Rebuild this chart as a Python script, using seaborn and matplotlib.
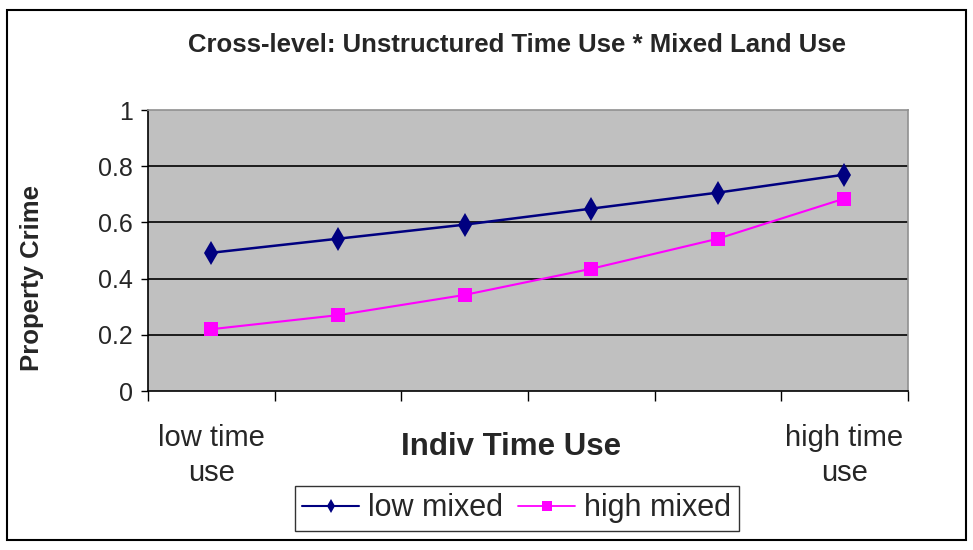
import matplotlib
matplotlib.use("Agg")
import matplotlib.pyplot as plt
from matplotlib.patches import Rectangle
import seaborn as sns
import pandas as pd

# Data
steps = [0, 1, 2, 3, 4, 5]
tick_labels = ["low time\nuse", "", "", "", "", "high time\nuse"]
low_mixed = [0.492, 0.542, 0.592, 0.649, 0.706, 0.770]
high_mixed = [0.220, 0.270, 0.342, 0.435, 0.542, 0.685]
series_names = ["low mixed", "high mixed"]

df = pd.DataFrame({
    "step": steps * 2,
    "value": low_mixed + high_mixed,
    "series": [series_names[0]] * len(steps) + [series_names[1]] * len(steps),
})

sns.set_theme(style="white")
plt.rcParams["font.family"] = ["Liberation Sans", "DejaVu Sans"]

fig = plt.figure(figsize=(9.73, 5.5), dpi=100)
ax = fig.add_axes([0.152, 0.289, 0.781, 0.511])
ax.set_facecolor("#C0C0C0")

palette = {"low mixed": "#000080", "high mixed": "#FF00FF"}
markers = {"low mixed": "d", "high mixed": "s"}
sns.lineplot(data=df, x="step", y="value", hue="series", style="series",
             palette=palette, markers=markers, dashes=False,
             markersize=11, linewidth=1.8, markeredgewidth=0,
             ax=ax, legend=False)
for line, lw, ms in zip(ax.lines, [1.8, 1.5], [12, 10]):
    line.set_linewidth(lw)
    line.set_markersize(ms)

ax.set_xlim(-0.5, 5.5)
ax.set_ylim(0, 1)
ax.set_yticks([0, 0.2, 0.4, 0.6, 0.8, 1.0])
ax.set_yticklabels(["0", "0.2", "0.4", "0.6", "0.8", "1"], fontsize=18)
for y in [0.2, 0.4, 0.6, 0.8]:
    ax.axhline(y, color="black", linewidth=1.2, zorder=0.5)

# category boundary ticks, labels centred on categories
ax.set_xticks([s - 0.5 for s in steps] + [5.5])
ax.set_xticklabels([])
ax.set_xticks(steps, minor=True)
ax.set_xticklabels(tick_labels, minor=True, fontsize=21, linespacing=1.3)
ax.tick_params(axis="x", which="major", direction="out", length=7, width=1,
               color="black", bottom=True)
ax.tick_params(axis="x", which="minor", length=0, pad=24)
ax.tick_params(axis="y", direction="out", length=5, width=1, color="black",
               left=True, pad=6)

for side in ["top", "right"]:
    ax.spines[side].set_color("#909090")
    ax.spines[side].set_linewidth(1.2)
for side in ["left", "bottom"]:
    ax.spines[side].set_color("black")
    ax.spines[side].set_linewidth(1.2)

ax.set_xlabel("")
ax.set_ylabel("")
fig.text(0.525, 0.187, "Indiv Time Use", ha="center", va="center",
         fontsize=22.5, fontweight="bold")
fig.text(0.033, 0.494, "Property Crime", ha="center", va="center",
         rotation=90, fontsize=18.5, fontweight="bold")
fig.text(0.531, 0.918, "Cross-level: Unstructured Time Use * Mixed Land Use",
         ha="center", va="center", fontsize=18.5, fontweight="bold")

handles = [plt.Line2D([], [], color=palette[n], marker=markers[n],
                      markersize=ms, linewidth=lw, markeredgewidth=0)
           for n, ms, lw in zip(series_names, [7, 7], [1.5, 1.3])]
leg = fig.legend(handles, series_names, loc="center",
                 bbox_to_anchor=(0.531, 0.0755), ncol=2, fontsize=22,
                 frameon=True, fancybox=False, handlelength=1.85,
                 handletextpad=0.3, columnspacing=0.5, borderpad=0.25)
leg.get_frame().set_edgecolor("black")
leg.get_frame().set_linewidth(1.0)

fig.patches.append(Rectangle((0.007, 0.018), 0.986, 0.964,
                             transform=fig.transFigure, fill=False,
                             edgecolor="black", linewidth=1.5))

fig.savefig("out.png", dpi=100, facecolor="white")
